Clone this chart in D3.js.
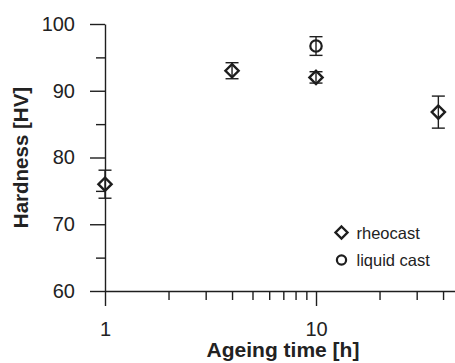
<!DOCTYPE html>
<html>
<head>
<meta charset="utf-8">
<script src="https://cdn.jsdelivr.net/npm/d3@7"></script>
<style>
  html, body { margin: 0; padding: 0; background: #fff; }
  svg { display: block; }
  text { font-family: "Liberation Sans", Arial, Helvetica, sans-serif; fill: #222; }
</style>
</head>
<body>
<svg id="chart" width="455" height="363"></svg>
<script>
// Hardness vs ageing time (log axis)
const rheoTime = [1, 4, 10, 38];
const rheoHardness = [76.0, 93.0, 92.0, 86.8];
const rheoError = [2.1, 1.2, 0.85, 2.4];

const liquidTime = [10];
const liquidHardness = [96.7];
const liquidError = [1.4];

const yMajorTicks = [60, 70, 80, 90, 100];
const yMinorTicks = [65, 75, 85, 95];
const xMajorTicks = [1, 10];
const xMinorTicks = [2, 3, 4, 5, 6, 7, 8, 9, 20, 30, 40];

const legendLabels = ["rheocast", "liquid cast"];
const xTitle = "Ageing time [h]";
const yTitle = "Hardness [HV]";

const svg = d3.select("#chart");
const ink = "#1e1e1e";

const x = d3.scaleLog().domain([1, 50]).range([105, 463.5]);
const y = d3.scaleLinear().domain([60, 100]).range([291, 24]);

const axisG = svg.append("g");

// y axis: major ticks with labels, then minor ticks
axisG.append("g")
  .attr("transform", `translate(${x(1)},0)`)
  .call(d3.axisLeft(y).tickValues(yMajorTicks).tickSize(15).tickSizeOuter(0).tickPadding(15).tickFormat(d3.format("d")));
axisG.append("g")
  .attr("transform", `translate(${x(1)},0)`)
  .call(d3.axisLeft(y).tickValues(yMinorTicks).tickSize(9).tickFormat(""))
  .select(".domain").remove();

// x axis
axisG.append("g")
  .attr("transform", `translate(0,${y(60)})`)
  .call(d3.axisBottom(x).tickValues(xMajorTicks).tickSize(15).tickSizeOuter(0).tickPadding(16).tickFormat(d3.format("d")));
axisG.append("g")
  .attr("transform", `translate(0,${y(60)})`)
  .call(d3.axisBottom(x).tickValues(xMinorTicks).tickSize(9).tickFormat(""))
  .select(".domain").remove();

axisG.selectAll(".domain, .tick line")
  .attr("stroke", ink).attr("stroke-width", 1.4);
axisG.selectAll(".tick text")
  .attr("fill", "#222")
  .style("font-family", '"Liberation Sans", Arial, sans-serif')
  .style("font-size", "20px");

// axis titles
svg.append("text")
  .attr("x", 283).attr("y", 357)
  .attr("text-anchor", "middle")
  .style("font-size", "21px").style("font-weight", "bold")
  .text(xTitle);
svg.append("text")
  .attr("transform", `translate(28,${(y(60) + y(100)) / 2}) rotate(-90)`)
  .attr("text-anchor", "middle")
  .style("font-size", "20.5px").style("font-weight", "bold")
  .text(yTitle);

const diamond = (s) => `M0,${-s}L${s},0L0,${s}L${-s},0Z`;
const capHalf = 6.5;

function drawSeries(times, values, errors, shape) {
  const g = svg.append("g");
  const pts = times.map((t, i) => ({ t, v: values[i], e: errors[i] }));
  const eb = g.selectAll("g.err").data(pts).join("g").attr("class", "err")
    .attr("stroke", ink).attr("stroke-width", 1.4);
  eb.append("line")
    .attr("x1", d => x(d.t)).attr("x2", d => x(d.t))
    .attr("y1", d => y(d.v - d.e)).attr("y2", d => y(d.v + d.e));
  eb.append("line")
    .attr("x1", d => x(d.t) - capHalf).attr("x2", d => x(d.t) + capHalf)
    .attr("y1", d => y(d.v + d.e)).attr("y2", d => y(d.v + d.e));
  eb.append("line")
    .attr("x1", d => x(d.t) - capHalf).attr("x2", d => x(d.t) + capHalf)
    .attr("y1", d => y(d.v - d.e)).attr("y2", d => y(d.v - d.e));
  if (shape === "diamond") {
    g.selectAll("path.m").data(pts).join("path").attr("class", "m")
      .attr("d", diamond(6.6))
      .attr("transform", d => `translate(${x(d.t)},${y(d.v)})`)
      .attr("fill", "none").attr("stroke", ink).attr("stroke-width", 2.4);
  } else {
    g.selectAll("circle.m").data(pts).join("circle").attr("class", "m")
      .attr("cx", d => x(d.t)).attr("cy", d => y(d.v)).attr("r", 5.7)
      .attr("fill", "none").attr("stroke", ink).attr("stroke-width", 2.2);
  }
}

drawSeries(rheoTime, rheoHardness, rheoError, "diamond");
drawSeries(liquidTime, liquidHardness, liquidError, "circle");

// legend
const lg = svg.append("g");
lg.append("path").attr("d", diamond(6))
  .attr("transform", "translate(341.5,232.5)")
  .attr("fill", "none").attr("stroke", ink).attr("stroke-width", 2.4);
lg.append("circle").attr("cx", 341.5).attr("cy", 260).attr("r", 4.6)
  .attr("fill", "none").attr("stroke", ink).attr("stroke-width", 2.2);
lg.selectAll("text").data(legendLabels).join("text")
  .attr("x", 356.5).attr("y", (d, i) => 238.5 + i * 27.5)
  .style("font-size", "16.5px")
  .text(d => d);
</script>
</body>
</html>
